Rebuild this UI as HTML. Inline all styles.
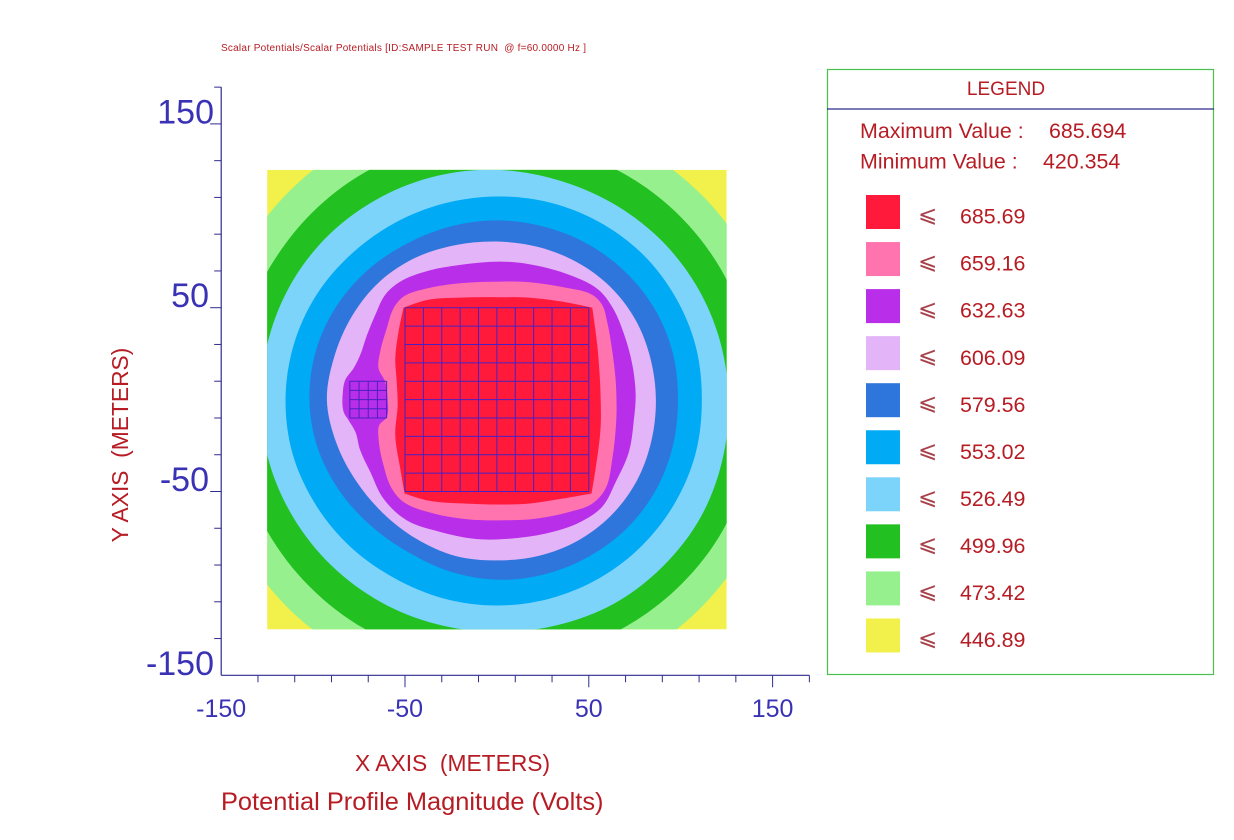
<!DOCTYPE html>
<html lang="en">
<head>
<meta charset="utf-8">
<title>Potential Profile Magnitude</title>
<style>
html,body{margin:0;padding:0;background:#fff;}
svg{display:block;font-family:"Liberation Sans",Arial,sans-serif;}
.red{fill:#b71c24;}
.blue{fill:#3a32b5;}
</style>
</head>
<body>
<svg id="chart" width="1234" height="840" viewBox="0 0 1234 840" xmlns="http://www.w3.org/2000/svg">
  <rect width="1234" height="840" fill="#fff"/>
  <text class="red" x="221" y="51" font-size="10" textLength="365" lengthAdjust="spacing" xml:space="preserve">Scalar Potentials/Scalar Potentials [ID:SAMPLE TEST RUN  @ f=60.0000 Hz ]</text>
  <defs><clipPath id="plot-clip"><rect id="plot-clip-rect"/></clipPath></defs>
  <g id="contours" clip-path="url(#plot-clip)"></g>
  <g id="grids"></g>
  <g id="axes"></g>
  <text class="red" x="355" y="771" font-size="22.8" xml:space="preserve">X AXIS  (METERS)</text>
  <text class="red" transform="translate(128,445) rotate(-90)" text-anchor="middle" font-size="22.8" xml:space="preserve">Y AXIS  (METERS)</text>
  <text class="red" x="221" y="810" font-size="25.4">Potential Profile Magnitude (Volts)</text>
  <g>
    <rect x="827.5" y="69.5" width="386" height="605" fill="none" stroke="#4cc04c" stroke-width="1.2"/>
    <line x1="827" x2="1214" y1="109" y2="109" stroke="#2f2a8f" stroke-width="1.2"/>
    <text class="red" x="1006" y="95" font-size="19" text-anchor="middle">LEGEND</text>
    <text class="red" x="860" y="138" font-size="21.4">Maximum Value :</text>
    <text class="red" x="1049" y="138" font-size="21.4">685.694</text>
    <text class="red" x="860" y="168.5" font-size="21.4">Minimum Value :</text>
    <text class="red" x="1043" y="168.5" font-size="21.4">420.354</text>
    <g id="legend-entries"></g>
  </g>
</svg>
<script>
// Contour levels, highest first (volts)
const levels = [685.69, 659.16, 632.63, 606.09, 579.56, 553.02, 526.49, 499.96, 473.42, 446.89];
const bandColors = ['#ff1a3c', '#ff73ae', '#b92ee8', '#e3b4f7', '#2e76db', '#00aaf5', '#7dd4fb', '#23c022', '#96f08e', '#f2f04a'];

// Axis ticks and labels (metres)
const tickValues = [-130, -110, -90, -70, -50, -30, -10, 10, 30, 50, 70, 90, 110, 130, 150, 170];
const majorTicks = [-50, 50, 150];
const xTickLabels = [-150, -50, 50, 150];
const yTickLabels = [150, 50, -50, -150];

// Outer, near-circular contours: radius in metres read every 15 degrees, counter-clockwise from +x
const radiusStepDegrees = 15;
const radii473 = [157.5,157.5,157.5,157.5,157.5,158,159,159.5,160,160,160,160.5,160.5,160.5,160.5,160.5,160,160,160,159.5,159,158.5,158,157.5];
const radii499 = [141,141,141,141,141,141,141,142,143,143,143,144,144,144,144,144,144,143,142,142,142,142,142,141];
const radii526 = [126,125.5,125,124.5,124,124,125,126,127,128,128.5,128.5,128.5,128.5,128,127.5,127,126.5,126.5,127,128,128,128,127];
const radii553 = [111.5,112,112,112,111.5,111,110.5,110.5,111,112,113.5,114.5,115,115,114,113,112,112,112,112,112,112,112,112];
const radii579 = [98.5,99,99,98.5,98,97.5,97.5,97.5,98,99.5,101,102,102,101,99,97,96,97,98,98.5,99,99.5,99.5,99];
const radii606 = [86.5,86.5,87,87,86.5,86,86,87,89,90.5,91,91.5,92.5,90.5,88.5,87.5,87.5,88,87.5,88,88.5,88.5,88,87];

// Inner contours hug the conductor grids: [x, y] outline points in metres
const contour685 = [[1.9,55.7],[-19.9,55.5],[-38,54.2],[-50.8,50],[-53.5,37],[-55.3,22.4],[-54.5,9.7],[-54,-3],[-55.3,-19.3],[-52.6,-37.5],[-50.2,-51.1],[-38,-54.8],[-16.3,-56.6],[1.9,-57.1],[17.3,-56.6],[35.5,-53.9],[51.5,-51.1],[53.7,-37.5],[56.4,-15.7],[56.4,2.5],[55.8,15],[54.6,29.7],[51.9,50],[35.5,53.3],[17.3,55.5]];
const contour659 = [[1.9,64.2],[-19.9,63.3],[-38,60.5],[-50.8,56],[-56.2,49.7],[-59.9,38.8],[-63.5,26.1],[-64.4,17],[-60.8,9.7],[-59.5,0.6],[-59.9,-9.4],[-64,-13.9],[-64.4,-21.2],[-61.7,-35.7],[-57.2,-48.4],[-50.8,-55.7],[-34.4,-62],[-16.3,-65.1],[1.9,-65.7],[21,-64.8],[39.1,-61.2],[51.9,-56.6],[59.1,-48.4],[62.8,-32.1],[65,-10.3],[65,2.5],[64.5,12],[62.8,26.1],[60,42.3],[57.3,51.5],[51.9,57],[37.3,60.9],[17.3,63.9]];
const contour632 = [[1.9,75.1],[-19.9,73.3],[-38,69.9],[-52.6,64.2],[-60.8,57],[-66.2,46],[-70.7,35.1],[-74.4,24.2],[-78,17],[-82.5,10.7],[-83.8,4.3],[-83.4,-6.6],[-80.7,-11.2],[-77,-17.5],[-74.4,-27.5],[-68.9,-39.3],[-61.7,-53.9],[-49,-65.7],[-30.8,-72],[-12.6,-75.7],[1.9,-76],[26.4,-72.9],[44.6,-67],[57.3,-58.3],[64.6,-44.9],[71.8,-28.5],[74.6,-10.3],[75.5,2.5],[73.7,18.9],[69.1,35.8],[63,50],[55,60],[37.3,68.6],[17.3,73.7]];

const radialContours = [radii606, radii579, radii553, radii526, radii499, radii473];
const outlineContours = [contour685, contour659, contour632];

// Plotted square and conductor grids (metres)
const domainHalf = 125;
const mainGrid = [-50, -40, -30, -20, -10, 0, 10, 20, 30, 40, 50];
const smallGridX = [-80, -75, -70, -65, -60];
const smallGridY = [-10, -5, 0, 5, 10];

// Axis functions
const pxPerMetre = 1.838;
function xScale(v) { return 496.9 + v * pxPerMetre; }
function yScale(v) { return 399.6 - v * pxPerMetre; }

const NS = 'http://www.w3.org/2000/svg';
function make(tag, attrs, parent) {
  const el = document.createElementNS(NS, tag);
  for (const k in attrs) el.setAttribute(k, attrs[k]);
  parent.appendChild(el);
  return el;
}
function radiiToPoints(radii) {
  return radii.map(function (r, i) {
    const t = i * radiusStepDegrees * Math.PI / 180;
    return [r * Math.cos(t), r * Math.sin(t)];
  });
}
// Closed smooth path; tangents follow neighbours, control arms follow chord length, sharp turns stay corners
function smoothClosedPath(points) {
  const p = points.map(function (q) { return [xScale(q[0]), yScale(q[1])]; });
  const n = p.length;
  const tangents = p.map(function (b, i) {
    const a = p[(i - 1 + n) % n], c = p[(i + 1) % n];
    const ux = b[0] - a[0], uy = b[1] - a[1], vx = c[0] - b[0], vy = c[1] - b[1];
    const lu = Math.hypot(ux, uy) || 1, lv = Math.hypot(vx, vy) || 1;
    const cosTurn = (ux * vx + uy * vy) / (lu * lv);
    if (cosTurn < 0.72) return null;
    const tx = ux / lu + vx / lv, ty = uy / lu + vy / lv;
    const l = Math.hypot(tx, ty) || 1;
    return [tx / l, ty / l];
  });
  let d = 'M' + p[0][0].toFixed(2) + ' ' + p[0][1].toFixed(2);
  for (let i = 0; i < n; i++) {
    const b = p[i], c = p[(i + 1) % n];
    const t0 = tangents[i], t1 = tangents[(i + 1) % n];
    const arm = Math.hypot(c[0] - b[0], c[1] - b[1]) / 3;
    const c1 = t0 ? [b[0] + t0[0] * arm, b[1] + t0[1] * arm] : b;
    const c2 = t1 ? [c[0] - t1[0] * arm, c[1] - t1[1] * arm] : c;
    d += 'C' + c1[0].toFixed(2) + ' ' + c1[1].toFixed(2) + ' ' + c2[0].toFixed(2) + ' ' + c2[1].toFixed(2) + ' ' + c[0].toFixed(2) + ' ' + c[1].toFixed(2);
  }
  return d + 'Z';
}

// Plot clip
const clipRect = document.getElementById('plot-clip-rect');
clipRect.setAttribute('x', xScale(-domainHalf));
clipRect.setAttribute('y', yScale(domainHalf));
clipRect.setAttribute('width', xScale(domainHalf) - xScale(-domainHalf));
clipRect.setAttribute('height', yScale(-domainHalf) - yScale(domainHalf));

// Contour bands: lowest level fills the square, higher levels stacked on top
const contourGroup = document.getElementById('contours');
const baseBand = make('rect', {
  x: xScale(-domainHalf), y: yScale(domainHalf),
  width: xScale(domainHalf) - xScale(-domainHalf),
  height: yScale(-domainHalf) - yScale(domainHalf),
  fill: bandColors[levels.length - 1]
}, contourGroup);


const allOutlines = outlineContours.concat(radialContours.map(radiiToPoints));
for (let i = allOutlines.length - 1; i >= 0; i--) {
  const band = make('path', { d: smoothClosedPath(allOutlines[i]), fill: bandColors[i] }, contourGroup);
  
  
}

// Conductor grids
const gridGroup = document.getElementById('grids');
function drawGrid(xs, ys) {
  xs.forEach(function (v) {
    const line = make('line', { x1: xScale(v), x2: xScale(v), y1: yScale(ys[0]), y2: yScale(ys[ys.length - 1]), stroke: '#4a20c0', 'stroke-width': 1 }, gridGroup);
    
    
  });
  ys.forEach(function (v) {
    const line = make('line', { y1: yScale(v), y2: yScale(v), x1: xScale(xs[0]), x2: xScale(xs[xs.length - 1]), stroke: '#4a20c0', 'stroke-width': 1 }, gridGroup);
    
    
  });
}
drawGrid(mainGrid, mainGrid);
drawGrid(smallGridX, smallGridY);

// Axes
const axisGroup = document.getElementById('axes');
const axisColor = '#2f2a8f';
const yAxisLine = make('line', { x1: xScale(-150), x2: xScale(-150), y1: yScale(170), y2: yScale(-150), stroke: axisColor, 'stroke-width': 1.2 }, axisGroup);


const xAxisLine = make('line', { x1: xScale(-150), x2: xScale(170), y1: yScale(-150), y2: yScale(-150), stroke: axisColor, 'stroke-width': 1.2 }, axisGroup);


tickValues.forEach(function (v) {
  const major = majorTicks.indexOf(v) >= 0;
  const xt = make('line', { x1: xScale(v), x2: xScale(v), y1: yScale(-150), y2: yScale(-150) + (major ? 12 : 7), stroke: axisColor, 'stroke-width': 1 }, axisGroup);
  
  
  const yt = make('line', { y1: yScale(v), y2: yScale(v), x1: xScale(-150), x2: xScale(-150) - (major ? 11 : 7), stroke: axisColor, 'stroke-width': 1 }, axisGroup);
  
  
});
xTickLabels.forEach(function (v) {
  const t = make('text', { x: xScale(v), y: 717, 'font-size': 25, 'text-anchor': 'middle', class: 'blue' }, axisGroup);
  
  
  t.textContent = String(v);
});
yTickLabels.forEach(function (v) {
  const right = Math.abs(v) === 150 ? 214 : 209;
  const t = make('text', { x: right, y: yScale(v) - 0.5, 'font-size': 34, 'text-anchor': 'end', class: 'blue' }, axisGroup);
  
  
  t.textContent = String(v);
});

// Legend entries
const legendGroup = document.getElementById('legend-entries');
levels.forEach(function (level, i) {
  const top = 195 + i * 47.05;
  const swatch = make('rect', { x: 866, y: top, width: 34, height: 34, fill: bandColors[i] }, legendGroup);
  
  
  const sym = make('text', { x: 918, y: top + 27, 'font-size': 23, fill: '#a8424a', style: 'font-family:"DejaVu Sans",sans-serif' }, legendGroup);
  
  
  sym.textContent = '\u2A7D';
  const label = make('text', { x: 960, y: top + 28.6, 'font-size': 21.4, class: 'red' }, legendGroup);
  
  
  label.textContent = level.toFixed(2);
});
</script>
</body>
</html>
